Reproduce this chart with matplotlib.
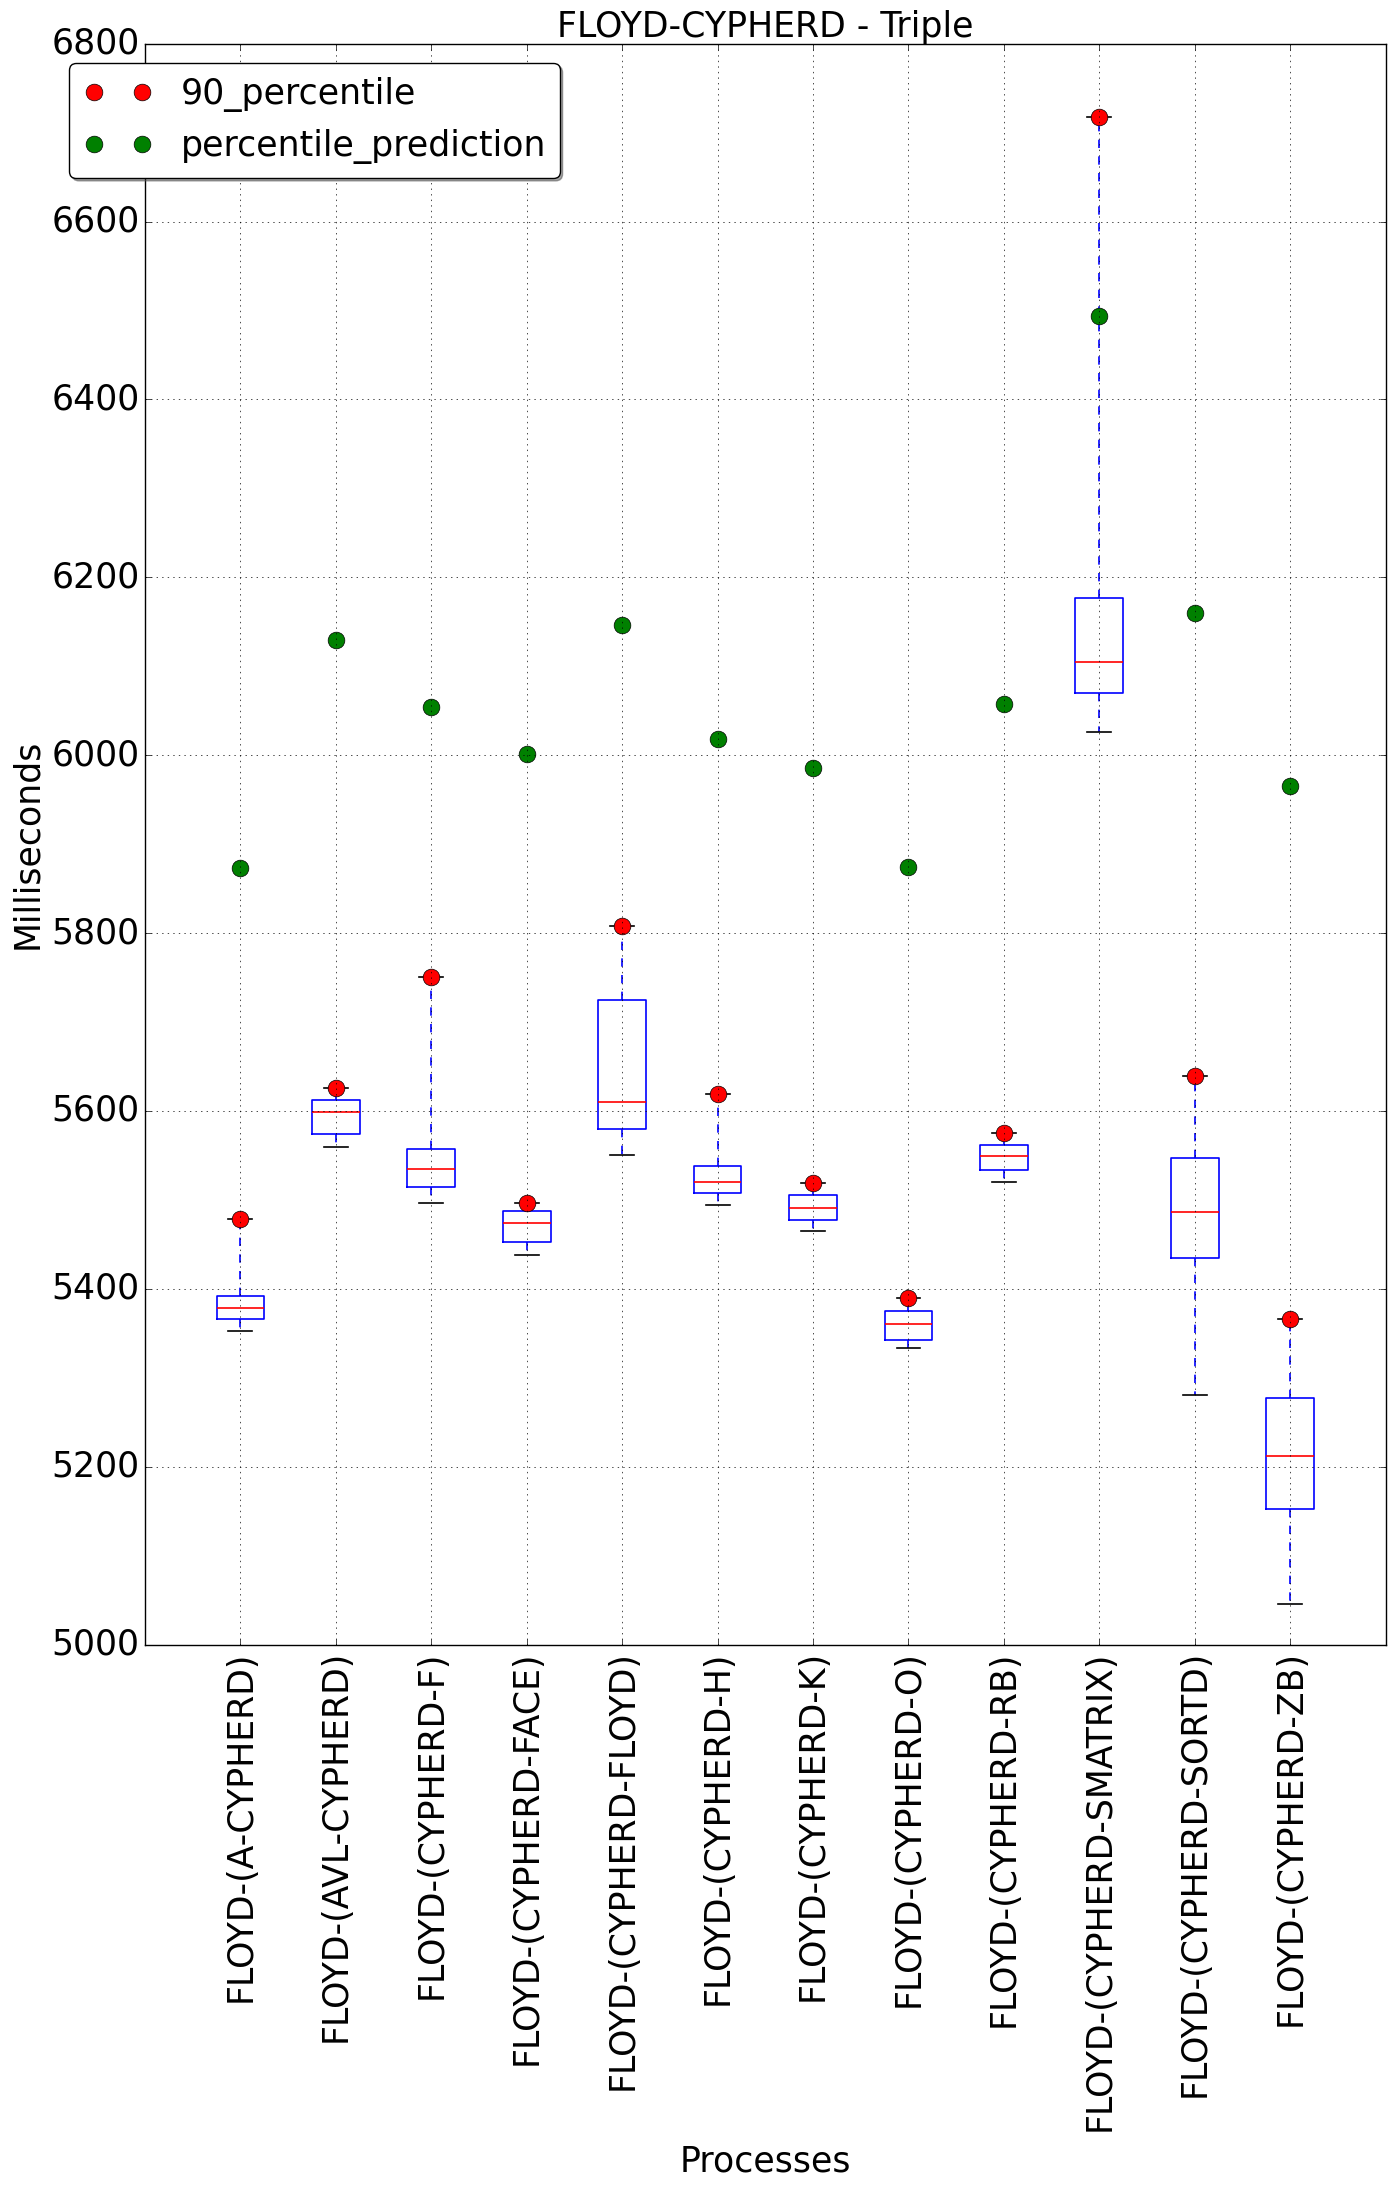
import matplotlib
matplotlib.use('Agg')
import matplotlib.pyplot as plt

plt.style.use('classic')
plt.rcParams['font.family'] = ['DejaVu Sans']

# process names on the x axis
labels = ['FLOYD-(A-CYPHERD)', 'FLOYD-(AVL-CYPHERD)', 'FLOYD-(CYPHERD-F)',
          'FLOYD-(CYPHERD-FACE)', 'FLOYD-(CYPHERD-FLOYD)', 'FLOYD-(CYPHERD-H)',
          'FLOYD-(CYPHERD-K)', 'FLOYD-(CYPHERD-O)', 'FLOYD-(CYPHERD-RB)',
          'FLOYD-(CYPHERD-SMATRIX)', 'FLOYD-(CYPHERD-SORTD)', 'FLOYD-(CYPHERD-ZB)']

# box statistics (milliseconds)
whislo = [5353, 5560, 5497, 5438, 5551, 5494, 5465, 5333, 5520, 6026, 5281, 5046]
q1     = [5366, 5574, 5514, 5453, 5580, 5508, 5478, 5342, 5534, 6070, 5435, 5152]
med    = [5378, 5599, 5535, 5474, 5610, 5520, 5491, 5360, 5549, 6105, 5486, 5212]
q3     = [5392, 5612, 5557, 5488, 5725, 5538, 5505, 5375, 5562, 6177, 5547, 5277]
whishi = [5479, 5626, 5751, 5497, 5808, 5619, 5519, 5390, 5575, 6718, 5639, 5366]

# extra markers
p90     = [5479, 5626, 5751, 5497, 5808, 5619, 5519, 5390, 5575, 6718, 5639, 5366]
p_pred  = [5873, 6130, 6054, 6001, 6146, 6018, 5986, 5874, 6058, 6494, 6160, 5965]

stats = []
for i in range(len(labels)):
    stats.append({'whislo': whislo[i], 'q1': q1[i], 'med': med[i],
                  'q3': q3[i], 'whishi': whishi[i], 'fliers': []})

pos = list(range(1, len(labels) + 1))

fig = plt.figure(figsize=(13.94, 21.87), dpi=100, facecolor='white')
ax = fig.add_axes([0.104, 0.248, 0.890, 0.732])

ax.bxp(stats, positions=pos, widths=0.5,
       boxprops=dict(color='b', linewidth=1.2),
       whiskerprops=dict(color='b', linestyle='--', linewidth=1.2),
       capprops=dict(color='k', linewidth=1.2),
       medianprops=dict(color='r', linewidth=1.2))

ax.plot(pos, p90, 'o', color='red', mec='k', markersize=12, label='90_percentile')
ax.plot(pos, p_pred, 'o', color='green', mec='k', markersize=12, label='percentile_prediction')

ax.set_xlim(0, 13)
ax.set_ylim(5000, 6800)
ax.set_xticks(pos)
ax.set_xticklabels(labels, rotation=90, fontsize=25)
ax.set_yticks(range(5000, 6801, 200))
ax.tick_params(axis='y', labelsize=25)
ax.grid(True)

ax.set_title('FLOYD-CYPHERD - Triple', fontsize=25)
ax.set_xlabel('Processes', fontsize=25, labelpad=10)
ax.set_ylabel('Milliseconds', fontsize=25)

ax.legend(loc='upper left', bbox_to_anchor=(-0.061, 0.988), borderaxespad=0,
          numpoints=2, shadow=True, fancybox=True, fontsize=25)

fig.savefig('out.png', dpi=100, facecolor='white')
